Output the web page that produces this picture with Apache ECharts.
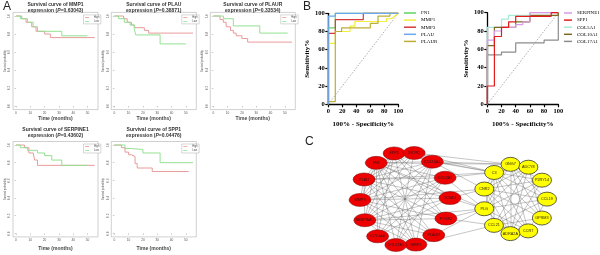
<!DOCTYPE html>
<html>
<head>
<meta charset="utf-8">
<script src="https://cdn.jsdelivr.net/npm/echarts@6.0.0/dist/echarts.min.js"></script>
<style>
  html, body { margin: 0; padding: 0; background: #fff; }
  #chart { width: 600px; height: 255px; }
</style>
</head>
<body>
<div id="chart"></div>
<script>
// ---- panel A: Kaplan-Meier curves ----
var kmGenes = ['MMP1', 'PLAU', 'PLAUR', 'SERPINE1', 'SPP1'];
var kmPvalues = ['0.63043', '0.38871', '0.33534', '0.43602', '0.04476'];
var kmTicksX = [0, 10, 20, 30, 40, 50];
var kmTicksY = [0, 0.2, 0.4, 0.6, 0.8, 1];
// [month, survival]
var kmHigh = [
  [[0, 1], [4, 0.97], [7, 0.93], [11, 0.88], [14, 0.83], [20, 0.8], [24, 0.76], [55, 0.76]],
  [[0, 1], [6.5, 0.97], [9, 0.93], [12, 0.9], [14, 0.87], [21, 0.84], [24, 0.81], [55, 0.81]],
  [[0, 1], [4.7, 0.96], [7, 0.93], [9, 0.88], [12, 0.84], [14, 0.81], [16, 0.78], [20, 0.75], [24, 0.71], [55, 0.71]],
  [[0, 1], [6, 0.97], [9, 0.91], [12, 0.89], [13, 0.83], [15, 0.77], [55, 0.77]],
  [[0, 1], [5, 0.97], [7.5, 0.92], [10, 0.89], [12, 0.87], [14.5, 0.79], [16, 0.74], [26.5, 0.7], [52, 0.7]]
];
var kmLow = [
  [[0, 1], [3, 0.97], [8, 0.93], [12, 0.88], [15, 0.83], [32, 0.78], [50, 0.78]],
  [[0, 1], [3, 0.97], [7, 0.93], [11, 0.9], [14, 0.85], [15, 0.79], [32, 0.69], [50, 0.69]],
  [[0, 1], [7, 0.97], [14, 0.89], [32.5, 0.81], [52, 0.81]],
  [[0, 1], [3, 0.97], [8, 0.94], [15, 0.91], [20, 0.88], [25, 0.83], [32, 0.77], [50, 0.77]],
  [[0, 1], [7.5, 0.96], [12, 0.95], [20, 0.91], [32, 0.8], [55, 0.8]]
];

// ---- panel B: ROC curves [100-spec, sens] ----
var rocNames1 = ['FN1', 'MMP1', 'MMP3', 'PLAU', 'PLAUR'];
var rocData1 = [
  [[0, 0], [0, 84], [10, 84], [10, 100], [100, 100]],
  [[0, 0], [0, 67], [10, 67], [10, 80], [31, 80], [31, 86], [38, 86], [38, 91], [83, 91], [83, 94], [90, 94], [100, 100]],
  [[0, 0], [0, 78], [10, 78], [10, 93], [50, 93], [50, 100], [100, 100]],
  [[0, 0], [0, 97], [10, 97], [10, 100], [100, 100]],
  [[0, 0], [0, 3], [10, 3], [10, 80], [19, 80], [19, 84], [60, 84], [60, 89], [71, 89], [71, 97], [88, 97], [88, 100], [100, 100]]
];
var rocNames2 = ['SERPINE1', 'SPP1', 'COL5A1', 'COL10A1', 'COL17A1'];
var rocData2 = [
  [[0, 0], [0, 70], [10, 70], [10, 80], [20, 80], [20, 84], [40, 84], [40, 87], [50, 87], [50, 90], [60, 90], [60, 100], [100, 100]],
  [[0, 0], [0, 20], [10, 20], [10, 74], [20, 74], [20, 84], [30, 84], [30, 90], [40, 90], [40, 96], [90, 96], [90, 100], [100, 100]],
  [[0, 0], [0, 84], [10, 84], [20, 84], [20, 93], [30, 93], [30, 97], [60, 97], [60, 100], [100, 100]],
  [[0, 0], [0, 64], [10, 64], [10, 84], [40, 84], [40, 90], [60, 90], [60, 97], [100, 97], [100, 100]],
  [[0, 0], [0, 54], [20, 54], [20, 57], [40, 57], [40, 67], [80, 67], [80, 70], [100, 70], [100, 100]]
];

// ---- panel C: network ----
var redGenes = ['SPP1', 'SSTR2', 'COL10A1', 'COL5A1', 'CCND1', 'PTGS2', 'PLAUR', 'MMP1', 'COL17A1', 'COL4A6', 'SERPINE1', 'MMP3', 'PLAU', 'FN1'];
var yellowGenes = ['GNG7', 'ADCY8', 'P2RY14', 'CCL19', 'GPSM3', 'CCR7', 'ADRA2A', 'CCL21', 'PLG', 'CNR2', 'C3'];
var edges = [
  'SPP1-MMP3', 'SPP1-PLAU', 'SPP1-SERPINE1', 'SPP1-COL4A6', 'SPP1-MMP1', 'SPP1-PTGS2', 'SPP1-CCND1',
  'SSTR2-FN1', 'SSTR2-PLAU', 'SSTR2-MMP3', 'SSTR2-COL17A1', 'SSTR2-SERPINE1',
  'COL10A1-FN1', 'COL10A1-PLAU', 'COL10A1-MMP3', 'COL10A1-SERPINE1', 'COL10A1-COL17A1', 'COL10A1-COL4A6', 'COL10A1-MMP1',
  'COL5A1-FN1', 'COL5A1-PLAU', 'COL5A1-MMP3', 'COL5A1-SERPINE1', 'COL5A1-COL4A6', 'COL5A1-COL17A1',
  'CCND1-FN1', 'CCND1-PLAU', 'CCND1-MMP3', 'CCND1-SERPINE1', 'CCND1-COL4A6',
  'PTGS2-FN1', 'PTGS2-PLAU', 'PTGS2-MMP3', 'PTGS2-SERPINE1',
  'PLAUR-FN1', 'PLAUR-PLAU', 'PLAUR-MMP3', 'PLAUR-SERPINE1', 'PLAUR-MMP1',
  'MMP1-FN1', 'MMP1-MMP3', 'MMP1-SERPINE1', 'MMP1-PLAU',
  'COL17A1-FN1', 'COL17A1-SERPINE1', 'COL4A6-FN1', 'SERPINE1-FN1', 'MMP3-FN1', 'PLAU-FN1', 'SERPINE1-PLAU', 'MMP3-PLAU',
  'FN1-GNG7', 'SSTR2-GNG7', 'SSTR2-C3', 'COL10A1-GNG7', 'COL10A1-C3', 'COL10A1-CNR2', 'COL5A1-C3', 'COL5A1-PLG',
  'CCND1-CNR2', 'CCND1-PLG', 'PTGS2-PLG', 'PTGS2-CCL21', 'PLAUR-PLG', 'SERPINE1-PLG', 'MMP3-CNR2', 'PLAU-C3',
  'FN1-PLG', 'MMP1-CCL21', 'SPP1-C3',
  'GNG7-ADCY8', 'GNG7-CCL19', 'GNG7-GPSM3', 'GNG7-CCR7', 'GNG7-ADRA2A', 'GNG7-CNR2', 'GNG7-PLG', 'GNG7-P2RY14',
  'ADCY8-C3', 'ADCY8-CNR2', 'ADCY8-PLG', 'ADCY8-CCL21', 'ADCY8-ADRA2A', 'ADCY8-GPSM3',
  'P2RY14-C3', 'P2RY14-CNR2', 'P2RY14-PLG', 'P2RY14-CCL21', 'P2RY14-ADRA2A',
  'CCL19-C3', 'CCL19-CNR2', 'CCL19-CCL21', 'CCL19-CCR7', 'CCL19-PLG',
  'GPSM3-C3', 'GPSM3-CNR2', 'GPSM3-CCL21',
  'CCR7-C3', 'CCR7-CNR2', 'CCR7-CCL21', 'CCR7-PLG',
  'ADRA2A-C3', 'ADRA2A-CNR2', 'ADRA2A-PLG',
  'CCL21-C3', 'CCL21-CNR2', 'PLG-C3', 'CNR2-C3'
];

// ---- layout ----
var kmBoxes = [
  { left: 13, top: 12.4, height: 97.2 },
  { left: 111.3, top: 12.4, height: 97.2 },
  { left: 210.3, top: 12.4, height: 97.2 },
  { left: 13, top: 141.5, height: 95.4 },
  { left: 111.3, top: 141.5, height: 95.4 }
];
var kmWidth = 85;
var highColor = '#e99a9a';
var lowColor = '#93e193';
var rocColors1 = ['#5cd65c', '#f2ee3c', '#d63a3a', '#6aa9ec', '#bdae34'];
var rocColors2 = ['#d99be6', '#e01c1c', '#a6ead8', '#7d6a22', '#8c8c8c'];
var serif = "'Liberation Serif', 'DejaVu Serif', serif";

var chart = echarts.init(document.getElementById('chart'), null, { renderer: 'canvas' });

var grids = [], xAxes = [], yAxes = [], series = [], legends = [], graphics = [];

kmBoxes.forEach(function (b, i) {
  grids.push({ left: b.left, top: b.top, width: kmWidth, height: b.height, show: true,
    borderColor: '#b0b0b0', borderWidth: 0.6, backgroundColor: 'transparent' });
  xAxes.push({
    gridIndex: i, type: 'value', min: -2.1, max: 57.3,
    axisLine: { show: false }, splitLine: { show: false },
    axisTick: { customValues: kmTicksX, length: 1.5, lineStyle: { color: '#999', width: 0.5 } },
    axisLabel: { customValues: kmTicksX, fontSize: 3.2, color: '#555', margin: 2 },
    name: 'Time (months)', nameLocation: 'middle', nameGap: i < 3 ? 7 : 9,
    nameTextStyle: { fontSize: 5, fontWeight: 'bold', color: '#444' }
  });
  yAxes.push({
    gridIndex: i, type: 'value', min: -0.04, max: 1.04,
    axisLine: { show: false }, splitLine: { show: false },
    axisTick: { customValues: kmTicksY, length: 1.5, lineStyle: { color: '#999', width: 0.5 } },
    axisLabel: { customValues: kmTicksY, fontSize: 3, color: '#555', margin: 2, rotate: 90,
      formatter: function (v) { return v.toFixed(1); } },
    name: 'Survival probability', nameLocation: 'middle', nameRotate: 90, nameGap: 6.5,
    nameTextStyle: { fontSize: 2.6, color: '#555' }
  });
  series.push({ type: 'line', name: 'High', step: 'end', xAxisIndex: i, yAxisIndex: i,
    data: kmHigh[i], showSymbol: false, lineStyle: { color: highColor, width: 1 }, itemStyle: { color: highColor } });
  series.push({ type: 'line', name: 'Low', step: 'end', xAxisIndex: i, yAxisIndex: i,
    data: kmLow[i], showSymbol: false, lineStyle: { color: lowColor, width: 1 }, itemStyle: { color: lowColor } });
  legends.push({
    data: ['High', 'Low'], orient: 'vertical', left: b.left + 70.5, top: b.top + 2.5,
    icon: 'rect', itemWidth: 4, itemHeight: 0.8, itemGap: 1, selectedMode: false,
    textStyle: { fontSize: 2.6, color: '#444' }, padding: [1, 1.5, 1, 1.5],
    borderColor: '#999', borderWidth: 0.4, backgroundColor: '#fff'
  });
  var cx = b.left + kmWidth / 2;
  var ty = i < 3 ? 4.5 : 129.5;
  graphics.push({ type: 'text', x: cx, y: ty, style: {
    text: 'Survival curve of ' + kmGenes[i], align: 'center', verticalAlign: 'middle',
    fontSize: 5, fontWeight: 'bold', fill: '#333' } });
  graphics.push({ type: 'text', x: cx, y: ty + 6.2, style: {
    text: '{n|expression (}{i|P}{n|=' + kmPvalues[i] + ')}', align: 'center', verticalAlign: 'middle',
    rich: { n: { fontSize: 5, fontWeight: 'bold', fill: '#333' },
            i: { fontSize: 5, fontWeight: 'bold', fontStyle: 'italic', fill: '#333' } } } });
});

// ROC grids
var rocBoxes = [{ left: 328.3, top: 13.3, width: 70, height: 91 }, { left: 487.3, top: 12.7, width: 71, height: 91.6 }];
rocBoxes.forEach(function (b, k) {
  var gi = 5 + k;
  grids.push({ left: b.left, top: b.top, width: b.width, height: b.height });
  var axisCommon = {
    gridIndex: gi, type: 'value', min: 0, max: 100, interval: 20, splitLine: { show: false },
    axisLine: { lineStyle: { color: '#000', width: 1.3 } },
    axisTick: { length: 3, lineStyle: { color: '#000', width: 1.2 } },
    axisLabel: { fontFamily: serif, fontWeight: 'bold', fontSize: 6.5, color: '#000', margin: 3.5 },
    nameLocation: 'middle', nameTextStyle: { fontFamily: serif, fontWeight: 'bold', fontSize: 7, color: '#000' }
  };
  xAxes.push(Object.assign({}, axisCommon, { name: '100% - Specificity%', nameGap: 16.5 }));
  yAxes.push(Object.assign({}, axisCommon, { name: 'Sensitivity%', nameGap: 15, nameRotate: 90 }));
  series.push({ type: 'line', name: 'ref' + k, xAxisIndex: gi, yAxisIndex: gi, data: [[0, 0], [100, 100]],
    showSymbol: false, silent: true, lineStyle: { color: '#777', width: 0.6, type: [1.5, 1.5] }, z: 1 });
  var names = k === 0 ? rocNames1 : rocNames2;
  var datas = k === 0 ? rocData1 : rocData2;
  var cols = k === 0 ? rocColors1 : rocColors2;
  var order = k === 0 ? [0, 1, 2, 4, 3] : [4, 2, 3, 0, 1];
  order.forEach(function (j, zi) {
    series.push({ type: 'line', name: names[j], xAxisIndex: gi, yAxisIndex: gi, data: datas[j],
      showSymbol: false, clip: false, z: 2 + zi,
      lineStyle: { color: cols[j], width: 1.2 }, itemStyle: { color: cols[j] } });
  });
  legends.push({
    data: names, orient: 'vertical', left: k === 0 ? 404 : 564, top: 10,
    icon: 'rect', itemWidth: k === 0 ? 12 : 8, itemHeight: 1.5, itemGap: 1.1, selectedMode: false,
    textStyle: { fontFamily: serif, fontWeight: 'normal', fontSize: 5, color: '#000', lineHeight: 6 },
    padding: 0
  });
});

// network grid
grids.push({ left: 330, top: 140, width: 240, height: 115 });
xAxes.push({ gridIndex: 7, type: 'value', min: 330, max: 570, show: false });
yAxes.push({ gridIndex: 7, type: 'value', min: 140, max: 255, inverse: true, show: false });

var nodes = [];
redGenes.forEach(function (g, i) {
  var a = (104 - i * 360 / redGenes.length) * Math.PI / 180;
  nodes.push({ name: g, value: [405 + 45 * Math.cos(a), 199 - 47 * Math.sin(a)], category: 0, symbolSize: [22, 13] });
});
yellowGenes.forEach(function (g, i) {
  var a = (98 - i * 360 / yellowGenes.length) * Math.PI / 180;
  nodes.push({ name: g, value: [515 + 32 * Math.cos(a), 199 - 35 * Math.sin(a)], category: 1, symbolSize: [19, 14] });
});
var links = edges.map(function (e) { var p = e.split('-'); return { source: p[0], target: p[1] }; });

series.push({
  type: 'graph', coordinateSystem: 'cartesian2d', xAxisIndex: 7, yAxisIndex: 7,
  layout: 'none', symbol: 'circle', data: nodes, links: links,
  categories: [
    { name: 'red', itemStyle: { color: '#ee0000', borderColor: '#7a0000', borderWidth: 0.5 } },
    { name: 'yellow', itemStyle: { color: '#ffff00', borderColor: '#222', borderWidth: 0.7 } }
  ],
  label: { show: true, position: 'inside', fontSize: 3.8, color: '#2a1a1a' },
  lineStyle: { color: '#555', width: 0.45, opacity: 0.75 },
  emphasis: { disabled: true }, silent: true
});

graphics.push({ type: 'text', x: 3, y: 1, style: { text: 'A', fontSize: 12, fill: '#222' } });
graphics.push({ type: 'text', x: 303, y: 1, style: { text: 'B', fontSize: 12, fill: '#222' } });
graphics.push({ type: 'text', x: 305, y: 136, style: { text: 'C', fontSize: 12, fill: '#222' } });

chart.setOption({
  animation: false,
  textStyle: { fontFamily: "'Liberation Sans', Arial, sans-serif" },
  grid: grids,
  xAxis: xAxes,
  yAxis: yAxes,
  legend: legends,
  graphic: graphics,
  series: series
});
</script>
</body>
</html>
